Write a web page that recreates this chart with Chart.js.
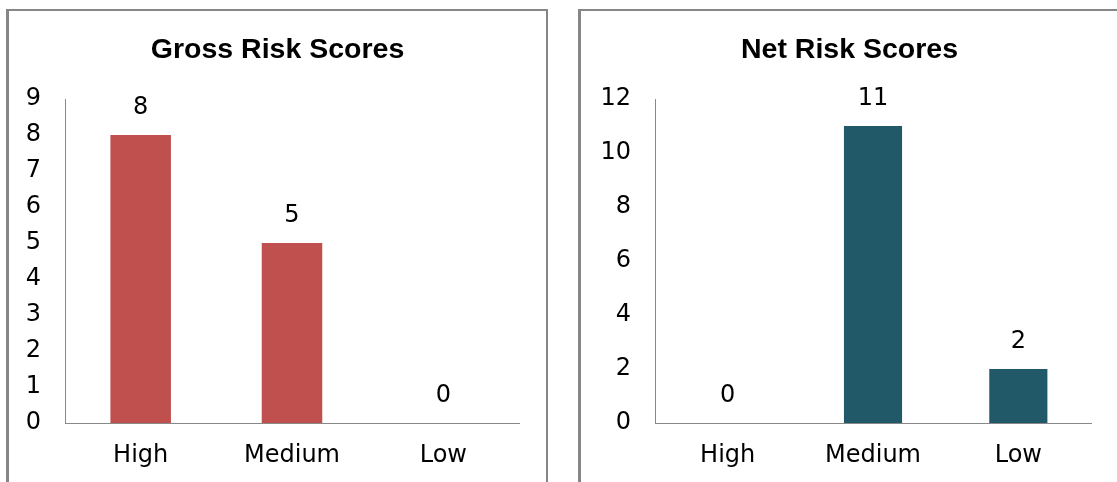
<!DOCTYPE html>
<html>
<head>
<meta charset="utf-8">
<script src="https://cdn.jsdelivr.net/npm/chart.js@4"></script>
<style>
  html, body { margin: 0; padding: 0; background: #fff; overflow: hidden; }
  .panel { position: absolute; top: 9px; width: 542px; height: 480px; box-sizing: border-box;
           border: 2px solid #868686; border-left-width: 3px; background: #fff; }
  .panel canvas { display: block; }
  #p1 { left: 6px; }
  #p2 { left: 578px; }
</style>
</head>
<body>
<div class="panel" id="p1"><canvas id="gross" width="537" height="476"></canvas></div>
<div class="panel" id="p2"><canvas id="net" width="537" height="476"></canvas></div>
<script>
// risk score summary — two small bar charts side by side
const categories = ['High', 'Medium', 'Low'];
const grossScores = [8, 5, 0];
const netScores = [0, 11, 2];
const grossMax = 9, grossStep = 1;
const netMax = 12, netStep = 2;

const TICK_FONT = { family: 'DejaVu Sans', size: 24 };

// value labels above each bar + panel title centred on the whole canvas
const valueLabels = {
  id: 'valueLabels',
  afterDatasetsDraw(chart, args, opts) {
    const ctx = chart.ctx;
    ctx.save();
    ctx.font = `${TICK_FONT.size}px "${TICK_FONT.family}"`;
    ctx.fillStyle = '#000';
    ctx.textAlign = 'center';
    ctx.textBaseline = 'middle';
    chart.getDatasetMeta(0).data.forEach((bar, i) => {
      const v = chart.data.datasets[0].data[i];
      ctx.fillText(String(v), bar.x, bar.y - 27);
    });
    ctx.font = 'bold 28.5px "Liberation Sans"';
    ctx.fillText(opts.title, chart.width / 2, 39);
    ctx.restore();
  }
};

function drawRiskChart(id, title, values, color, max, step) {
  return new Chart(document.getElementById(id), {
    type: 'bar',
    data: {
      labels: categories,
      datasets: [{ data: values, backgroundColor: color, borderWidth: 0,
                   barPercentage: 0.4, categoryPercentage: 1 }]
    },
    options: {
      responsive: false,
      animation: false,
      layout: { padding: { left: 0, right: 27, top: 88, bottom: 0 } },
      plugins: {
        legend: { display: false },
        tooltip: { enabled: false },
        title: { display: false },
        valueLabels: { title: title }
      },
      scales: {
        x: {
          grid: { display: false, drawTicks: false },
          border: { display: true, color: '#898989', width: 1 },
          ticks: { color: '#000', font: TICK_FONT, padding: 18, maxRotation: 0 },
          afterFit(s) { s.height = 64; }
        },
        y: {
          min: 0, max: max,
          grid: { display: false, drawTicks: false },
          border: { display: true, color: '#898989', width: 1 },
          ticks: { stepSize: step, color: '#000', font: TICK_FONT, padding: 24 },
          afterFit(s) { s.width = id === 'gross' ? 56 : 74; }
        }
      }
    },
    plugins: [valueLabels]
  });
}

drawRiskChart('gross', 'Gross Risk Scores', grossScores, '#C0504D', grossMax, grossStep);
drawRiskChart('net', 'Net Risk Scores', netScores, '#215968', netMax, netStep);
</script>
</body>
</html>
